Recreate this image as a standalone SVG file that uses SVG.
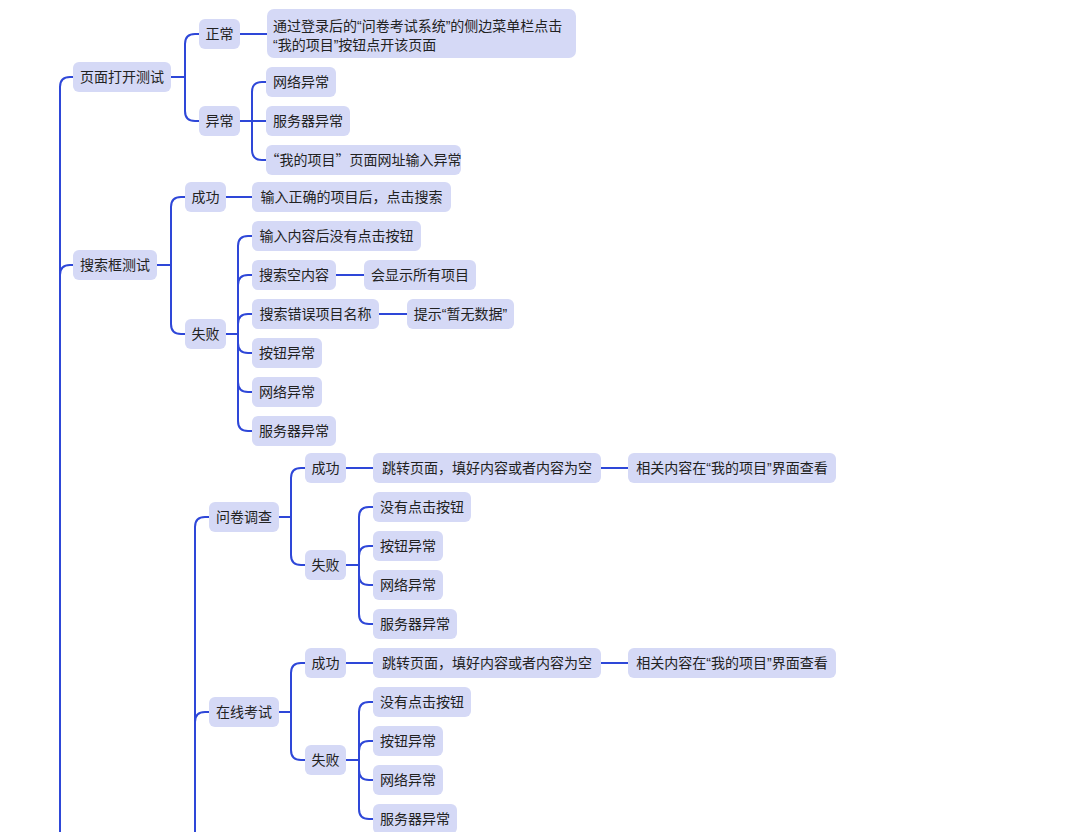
<svg xmlns="http://www.w3.org/2000/svg" width="1078" height="832" viewBox="0 0 1078 832">
<style>
.n rect{fill:#d5d9f6;stroke:none}
.n text{font-family:'Liberation Sans','Noto Sans CJK SC',sans-serif;font-size:14px;fill:#222;text-anchor:middle}
.n text.l{text-anchor:start}
.fw{font-family:'Noto Sans CJK SC',sans-serif}
#links path{fill:none;stroke:#2e47d8;stroke-width:2;stroke-linecap:round;stroke-linejoin:round}
</style>
<rect width="1078" height="832" fill="#fff"/>
<g id="links">
<path d="M60,850 V87 Q60,77 70,77 H73"/>
<path d="M60,850 V275 Q60,265 70,265 H73"/>
<path d="M171,77 H185 M185,77 V44 Q185,34 195,34 H199 M185,77 V111 Q185,121 195,121 H199"/>
<path d="M240,34 H267"/>
<path d="M240,121 H266 M252,121 V92 Q252,82 262,82 H266 M252,121 V150 Q252,160 262,160 H266"/>
<path d="M157,265 H171 M171,265 V207 Q171,197 181,197 H185 M171,265 V324 Q171,334 181,334 H185"/>
<path d="M226,197 H252"/>
<path d="M226,334 H238 M238,334 V246 Q238,236 248,236 H252 M238,334 V285 Q238,275 248,275 H252 M238,334 V324 Q238,314 248,314 H252 M238,334 V343 Q238,353 248,353 H252 M238,334 V382 Q238,392 248,392 H252 M238,334 V421 Q238,431 248,431 H252"/>
<path d="M336,275 H364"/>
<path d="M379,314 H407"/>
<path d="M195,850 V527 Q195,517 205,517 H209"/>
<path d="M195,850 V722 Q195,712 205,712 H209"/>
<path d="M279,517 H291 M291,517 V478 Q291,468 301,468 H305 M291,517 V555 Q291,565 301,565 H305"/>
<path d="M346,468 H373 M601,468 H628"/>
<path d="M346,565 H359 M359,565 V517 Q359,507 369,507 H373 M359,565 V556 Q359,546 369,546 H373 M359,565 V575 Q359,585 369,585 H373 M359,565 V614 Q359,624 369,624 H373"/>
<path d="M279,712 H291 M291,712 V673 Q291,663 301,663 H305 M291,712 V750 Q291,760 301,760 H305"/>
<path d="M346,663 H373 M601,663 H628"/>
<path d="M346,760 H359 M359,760 V712 Q359,702 369,702 H373 M359,760 V751 Q359,741 369,741 H373 M359,760 V770 Q359,780 369,780 H373 M359,760 V809 Q359,819 369,819 H373"/>
</g>
<g id="n1" class="n"><rect x="73" y="62" width="98" height="30" rx="6"/><text x="122" y="82">页面打开测试</text></g>
<g id="n1a" class="n"><rect x="199" y="19" width="41" height="30" rx="6"/><text x="219.5" y="39">正常</text></g>
<g id="n1a1" class="n"><rect x="267" y="9" width="309" height="49" rx="7"/><text class="l" x="273" y="31">通过登录后的“问卷考试系统”的侧边菜单栏点击</text><text class="l" x="273" y="50">“我的项目”按钮点开该页面</text></g>
<g id="n1b" class="n"><rect x="199" y="106" width="41" height="30" rx="6"/><text x="219.5" y="126">异常</text></g>
<g id="n1b1" class="n"><rect x="266" y="67" width="70" height="30" rx="6"/><text x="301" y="87">网络异常</text></g>
<g id="n1b2" class="n"><rect x="266" y="106" width="84" height="30" rx="6"/><text x="308" y="126">服务器异常</text></g>
<g id="n1b3" class="n"><rect x="266" y="145" width="195" height="30" rx="6"/><text x="363.5" y="165"><tspan class="fw">“</tspan>我的项目<tspan class="fw">”</tspan>页面网址输入异常</text></g>
<g id="n2" class="n"><rect x="73" y="250" width="84" height="30" rx="6"/><text x="115" y="270">搜索框测试</text></g>
<g id="n2a" class="n"><rect x="185" y="182" width="41" height="30" rx="6"/><text x="205.5" y="202">成功</text></g>
<g id="n2a1" class="n"><rect x="252" y="182" width="199" height="30" rx="6"/><text x="351.5" y="202">输入正确的项目后，点击搜索</text></g>
<g id="n2b" class="n"><rect x="185" y="319" width="41" height="30" rx="6"/><text x="205.5" y="339">失败</text></g>
<g id="n2b1" class="n"><rect x="252" y="221" width="169" height="30" rx="6"/><text x="336.5" y="241">输入内容后没有点击按钮</text></g>
<g id="n2b2" class="n"><rect x="252" y="260" width="84" height="30" rx="6"/><text x="294" y="280">搜索空内容</text></g>
<g id="n2b2a" class="n"><rect x="364" y="260" width="112" height="30" rx="6"/><text x="420" y="280">会显示所有项目</text></g>
<g id="n2b3" class="n"><rect x="252" y="299" width="127" height="30" rx="6"/><text x="315.5" y="319">搜索错误项目名称</text></g>
<g id="n2b3a" class="n"><rect x="407" y="299" width="107" height="30" rx="6"/><text x="460.5" y="319">提示“暂无数据”</text></g>
<g id="n2b4" class="n"><rect x="252" y="338" width="70" height="30" rx="6"/><text x="287" y="358">按钮异常</text></g>
<g id="n2b5" class="n"><rect x="252" y="377" width="70" height="30" rx="6"/><text x="287" y="397">网络异常</text></g>
<g id="n2b6" class="n"><rect x="252" y="416" width="84" height="30" rx="6"/><text x="294" y="436">服务器异常</text></g>
<g id="n3a" class="n"><rect x="209" y="502" width="70" height="30" rx="6"/><text x="244" y="522">问卷调查</text></g>
<g id="n3a1" class="n"><rect x="305" y="453" width="41" height="30" rx="6"/><text x="325.5" y="473">成功</text></g>
<g id="n3a1a" class="n"><rect x="373" y="453" width="228" height="30" rx="6"/><text x="487" y="473">跳转页面，填好内容或者内容为空</text></g>
<g id="n3a1b" class="n"><rect x="628" y="453" width="208" height="30" rx="6"/><text x="732" y="473">相关内容在“我的项目”界面查看</text></g>
<g id="n3a2" class="n"><rect x="305" y="550" width="41" height="30" rx="6"/><text x="325.5" y="570">失败</text></g>
<g id="n3a2a" class="n"><rect x="373" y="492" width="98" height="30" rx="6"/><text x="422" y="512">没有点击按钮</text></g>
<g id="n3a2b" class="n"><rect x="373" y="531" width="70" height="30" rx="6"/><text x="408" y="551">按钮异常</text></g>
<g id="n3a2c" class="n"><rect x="373" y="570" width="70" height="30" rx="6"/><text x="408" y="590">网络异常</text></g>
<g id="n3a2d" class="n"><rect x="373" y="609" width="84" height="30" rx="6"/><text x="415" y="629">服务器异常</text></g>
<g id="n3b" class="n"><rect x="209" y="697" width="70" height="30" rx="6"/><text x="244" y="717">在线考试</text></g>
<g id="n3b1" class="n"><rect x="305" y="648" width="41" height="30" rx="6"/><text x="325.5" y="668">成功</text></g>
<g id="n3b1a" class="n"><rect x="373" y="648" width="228" height="30" rx="6"/><text x="487" y="668">跳转页面，填好内容或者内容为空</text></g>
<g id="n3b1b" class="n"><rect x="628" y="648" width="208" height="30" rx="6"/><text x="732" y="668">相关内容在“我的项目”界面查看</text></g>
<g id="n3b2" class="n"><rect x="305" y="745" width="41" height="30" rx="6"/><text x="325.5" y="765">失败</text></g>
<g id="n3b2a" class="n"><rect x="373" y="687" width="98" height="30" rx="6"/><text x="422" y="707">没有点击按钮</text></g>
<g id="n3b2b" class="n"><rect x="373" y="726" width="70" height="30" rx="6"/><text x="408" y="746">按钮异常</text></g>
<g id="n3b2c" class="n"><rect x="373" y="765" width="70" height="30" rx="6"/><text x="408" y="785">网络异常</text></g>
<g id="n3b2d" class="n"><rect x="373" y="804" width="84" height="30" rx="6"/><text x="415" y="824">服务器异常</text></g>
</svg>
